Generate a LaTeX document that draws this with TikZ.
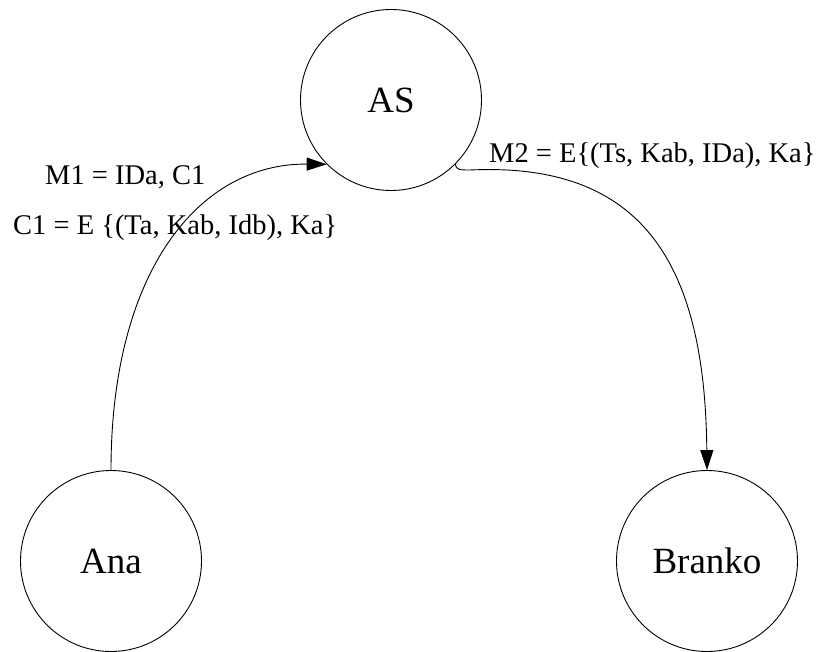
\documentclass[tikz,border=0pt]{standalone}
\usepackage{fontspec}
\setmainfont{Liberation Serif}
\usetikzlibrary{arrows.meta}
\begin{document}
\begin{tikzpicture}[x=1pt,y=-1pt,
  state/.style={draw,circle,line width=0.9pt,minimum size=181pt,inner sep=0pt,font=\fontsize{37}{40}\selectfont},
  lbl/.style={anchor=base west,inner sep=0pt,font=\fontsize{28.5}{32}\selectfont},
  conn/.style={line width=0.9pt},
  tip/.style={-{Triangle[length=20pt,width=13pt]}}]
\useasboundingbox (0,0) rectangle (819,652);
\node[state] (as) at (391,100) {AS};
\node[state] (ana) at (111,561) {Ana};
\node[state] (branko) at (707,561) {Branko};
\draw[conn,tip] (ana.north) .. controls (111,270) and (200,163) .. (as.south west);
\coordinate (bend) at (470,170);
\draw[conn] (as.south east) .. controls (456,170) and (460,170) .. (bend);
\draw[conn,tip] (bend) .. controls (640,162) and (705,260) .. (branko.north);
\node[lbl] (m1) at (45,185) {M1 = IDa, C1};
\node[lbl] (c1) at (13,235) {C1 = E \{(Ta, Kab, Idb), Ka\}};
\node[lbl] (m2) at (489,163) {M2 = E\{(Ts, Kab, IDa), Ka\}};
\end{tikzpicture}
\end{document}
